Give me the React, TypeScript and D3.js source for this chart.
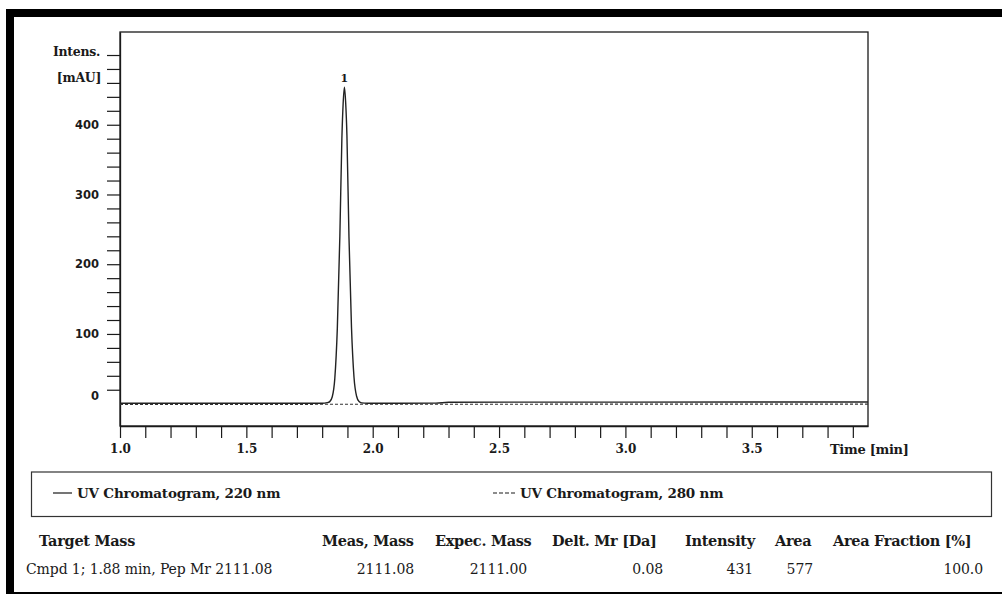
import { useEffect, useRef } from "react";
import * as d3 from "d3";

// UV 220 nm trace (time [min], intensity [mAU])
const uv220Time = [1.0, 1.3, 1.6, 1.8, 1.82, 1.83, 1.84, 1.85, 1.86, 1.87, 1.878, 1.883, 1.888, 1.893, 1.898, 1.906, 1.916, 1.926, 1.936, 1.946, 1.956, 1.98, 2.1, 2.25, 2.3, 2.6, 3.0, 3.5, 3.96];
const uv220Value = [0.6, 0.6, 0.6, 0.6, 1.5, 3, 10, 36, 108, 240, 380, 430, 454, 432, 385, 240, 110, 38, 11, 3, 1.2, 0.6, 0.6, 0.8, 2, 2.2, 2.3, 2.4, 2.5];

// UV 280 nm trace (dashed)
const uv280Time = [1.0, 1.5, 2.0, 2.5, 3.0, 3.5, 3.96];
const uv280Value = [-0.9, -0.9, -0.8, -0.8, -0.7, -0.7, -0.6];

const xTickLabels = [1.0, 1.5, 2.0, 2.5, 3.0, 3.5];
const yTickLabels = [100, 200, 300, 400];

const peakTime = [1.888];
const peakValue = [454];
const peakName = ["1"];

const legendNames = ["UV Chromatogram, 220 nm", "UV Chromatogram, 280 nm"];

const tableHeaders = ["Target Mass", "Meas, Mass", "Expec. Mass", "Delt. Mr [Da]", "Intensity", "Area", "Area Fraction [%]"];
const tableRow = ["Cmpd 1; 1.88 min, Pep Mr 2111.08", "2111.08", "2111.00", "0.08", "431", "577", "100.0"];

const W = 1002;
const H = 594;

export default function App() {
    const svgRef = useRef<SVGSVGElement>(null);

    useEffect(() => {
        const svgEl = svgRef.current;
        if (!svgEl) return;

        const serif = "DejaVu Serif";
        const sans = "DejaVu Sans";
        const ink = "#1a1a1a";

        const ml = 120, mr = 868, mt = 32, mb = 426;

        const x = d3.scaleLinear().domain([1.0, 3.96]).range([ml, mr]);
        const y = d3.scaleLinear().domain([-32, 533]).range([mb, mt]);

        const svg = d3.select(svgEl);
        svg.selectAll("*").remove();

        svg.append("rect").attr("width", W).attr("height", H).attr("fill", "#fff");

        // outer frame
        svg.append("rect").attr("x", 6).attr("y", 9).attr("width", W - 6).attr("height", 8).attr("fill", "#000");
        svg.append("rect").attr("x", 6).attr("y", 9).attr("width", 8).attr("height", H - 9).attr("fill", "#000");
        svg.append("rect").attr("x", 6).attr("y", 592).attr("width", W - 6).attr("height", 3).attr("fill", "#000");

        // plot box
        svg.append("rect")
            .attr("x", ml).attr("y", mt)
            .attr("width", mr - ml).attr("height", mb - mt)
            .attr("fill", "none").attr("stroke", ink).attr("stroke-width", 1.3);

        // y axis
        const yTicks = d3.range(20, 501, 20);
        const yAxis = svg.append("g")
            .attr("transform", `translate(${ml},0)`)
            .call(d3.axisLeft(y).tickValues(yTicks).tickSize(13).tickSizeOuter(0)
                .tickFormat(d => yTickLabels.includes(+d) ? String(d) : ""));
        yAxis.select(".domain").attr("stroke", ink).attr("stroke-width", 1.3);
        yAxis.selectAll(".tick line").attr("stroke", ink).attr("stroke-width", 1.2);
        yAxis.selectAll(".tick text")
            .attr("x", -21)
            .attr("font-family", sans).attr("font-weight", "bold").attr("font-size", 11.5).attr("fill", ink);

        svg.append("text").attr("x", 100).attr("y", y(500) + 1)
            .attr("text-anchor", "end").attr("font-family", serif).attr("font-weight", "bold")
            .attr("font-size", 12.5).attr("letter-spacing", "-0.3").attr("fill", ink).text("Intens.");
        svg.append("text").attr("x", 101).attr("y", 82)
            .attr("text-anchor", "end").attr("font-family", serif).attr("font-weight", "bold")
            .attr("font-size", 12.5).attr("letter-spacing", "-0.3").attr("fill", ink).text("[mAU]");
        svg.append("text").attr("x", 99).attr("y", y(0) - 8).attr("dy", "0.35em")
            .attr("text-anchor", "end").attr("font-family", sans).attr("font-weight", "bold")
            .attr("font-size", 11.5).attr("fill", ink).text("0");

        // x axis
        const xTicks = d3.range(10, 40).map(d => d / 10);
        const xAxis = svg.append("g")
            .attr("transform", `translate(0,${mb})`)
            .call(d3.axisBottom(x).tickValues(xTicks).tickSize(12).tickSizeOuter(0)
                .tickFormat(d => xTickLabels.some(v => Math.abs(v - +d) < 1e-6) ? d3.format(".1f")(+d) : ""));
        xAxis.select(".domain").attr("stroke", ink).attr("stroke-width", 1.3);
        xAxis.selectAll(".tick line").attr("stroke", ink).attr("stroke-width", 1.2);
        xAxis.selectAll(".tick text")
            .attr("y", 18)
            .attr("font-family", serif).attr("font-weight", "bold").attr("font-size", 12).attr("fill", ink);

        svg.append("text").attr("x", 830).attr("y", 454)
            .attr("font-family", serif).attr("font-weight", "bold").attr("font-size", 13)
            .attr("letter-spacing", "-0.3").attr("fill", ink).text("Time [min]");

        // traces
        const line = d3.line<[number, number]>()
            .x(d => x(d[0]))
            .y(d => y(d[1]))
            .curve(d3.curveMonotoneX);

        const uv280 = uv280Time.map((t, i) => [t, uv280Value[i]] as [number, number]);
        const uv220 = uv220Time.map((t, i) => [t, uv220Value[i]] as [number, number]);

        svg.append("path").datum(uv280)
            .attr("d", line).attr("fill", "none").attr("stroke", "#333")
            .attr("stroke-width", 1.2).attr("stroke-dasharray", "3,2");
        svg.append("path").datum(uv220)
            .attr("d", line).attr("fill", "none").attr("stroke", "#222")
            .attr("stroke-width", 1.4);

        // peak label
        svg.selectAll(".peak-label").data(peakTime).join("text")
            .attr("class", "peak-label")
            .attr("x", d => x(d))
            .attr("y", (_, i) => y(peakValue[i]) - 5)
            .attr("text-anchor", "middle").attr("font-family", serif).attr("font-weight", "bold")
            .attr("font-size", 11).attr("fill", ink)
            .text((_, i) => peakName[i]);

        // legend
        svg.append("rect").attr("x", 31.5).attr("y", 472).attr("width", 960).attr("height", 44.5)
            .attr("fill", "none").attr("stroke", "#333").attr("stroke-width", 1.2);
        svg.append("line").attr("x1", 53).attr("x2", 72).attr("y1", 493).attr("y2", 493)
            .attr("stroke", ink).attr("stroke-width", 1.2);
        svg.append("text").attr("x", 77).attr("y", 497.5)
            .attr("font-family", serif).attr("font-weight", "bold").attr("font-size", 13.5)
            .attr("letter-spacing", "-0.2").attr("fill", ink).text(legendNames[0]);
        svg.append("line").attr("x1", 493).attr("x2", 515).attr("y1", 493).attr("y2", 493)
            .attr("stroke", ink).attr("stroke-width", 1.2).attr("stroke-dasharray", "4,2");
        svg.append("text").attr("x", 520).attr("y", 497.5)
            .attr("font-family", serif).attr("font-weight", "bold").attr("font-size", 13.5)
            .attr("letter-spacing", "-0.2").attr("fill", ink).text(legendNames[1]);

        // result table
        const headerX = [39, 322, 435, 552, 685, 775, 833];
        const rowRight = [26, 414, 527, 663, 753, 813, 983];
        svg.selectAll(".th").data(tableHeaders).join("text")
            .attr("class", "th")
            .attr("x", (_, i) => headerX[i]).attr("y", 546)
            .attr("font-family", serif).attr("font-weight", "bold").attr("font-size", 14.5)
            .attr("letter-spacing", "-0.3").attr("fill", ink)
            .text(d => d);
        svg.selectAll(".td").data(tableRow).join("text")
            .attr("class", "td")
            .attr("x", (_, i) => rowRight[i]).attr("y", 574)
            .attr("text-anchor", (_, i) => i === 0 ? "start" : "end")
            .attr("font-family", serif).attr("font-size", 14)
            .attr("letter-spacing", "-0.1").attr("fill", ink)
            .text(d => d);
    }, []);

    return (
        <div style={{ position: "absolute", left: 0, top: 0 }}>
            <svg ref={svgRef} width={W} height={H} style={{ display: "block" }} />
        </div>
    );
}
